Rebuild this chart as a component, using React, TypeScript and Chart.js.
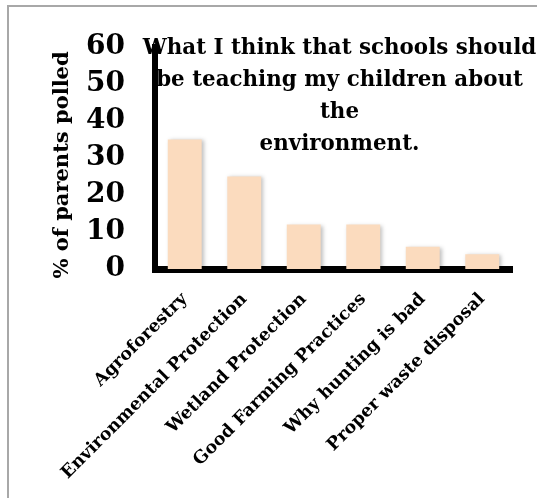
import React, { useEffect, useRef } from "react";
import { Chart, registerables } from "chart.js";

Chart.register(...registerables);

const categories = [
  "Agroforestry",
  "Environmental Protection",
  "Wetland Protection",
  "Good Farming Practices",
  "Why hunting is bad",
  "Proper waste disposal",
];
const percentParents = [35, 25, 12, 12, 6, 4];
const yTicks = [0, 10, 20, 30, 40, 50, 60];
const titleLines = [
  "What I think that schools should",
  "be teaching my children about",
  "the",
  "environment.",
];
const yAxisTitle = "% of parents polled";

const SERIF = '"DejaVu Serif", "Liberation Serif", serif';
const BAR_COLOR = "#FBDBBE";
const FRAME_COLOR = "#a8a8a8";

// Thin frame along the top and left edges of the chart box
const frame = {
  id: "frame",
  beforeDraw(chart: any) {
    const c = chart.ctx;
    c.save();
    c.fillStyle = "#fff";
    c.fillRect(0, 0, chart.width, chart.height);
    c.strokeStyle = FRAME_COLOR;
    c.lineWidth = 2;
    c.beginPath();
    c.moveTo(8, chart.height);
    c.lineTo(8, 6);
    c.lineTo(chart.width, 6);
    c.stroke();
    c.restore();
  },
};

// Soft drop shadow behind the bars
const barShadow = {
  id: "barShadow",
  beforeDatasetsDraw(chart: any) {
    const c = chart.ctx;
    c.save();
    c.shadowColor = "rgba(0,0,0,0.25)";
    c.shadowBlur = 4;
    c.shadowOffsetX = 2;
    c.shadowOffsetY = 1;
  },
  afterDatasetsDraw(chart: any) {
    chart.ctx.restore();
  },
};

// Title sits over the plot area; the axis title is placed beside the ticks
const overlayText = {
  id: "overlayText",
  afterDraw(chart: any) {
    const { ctx, chartArea } = chart;
    ctx.save();
    ctx.fillStyle = "#000";
    ctx.font = `bold 21.4px ${SERIF}`;
    ctx.textAlign = "center";
    ctx.textBaseline = "alphabetic";
    const cx = (chartArea.left + chartArea.right) / 2 + 6;
    titleLines.forEach((line, i) => {
      ctx.fillText(line, cx, chartArea.top + 7 + i * 32);
    });
    ctx.font = `bold 21px ${SERIF}`;
    ctx.translate(chartArea.left - 92, (chartArea.top + chartArea.bottom) / 2 + 7);
    ctx.rotate(-Math.PI / 2);
    ctx.textBaseline = "middle";
    ctx.fillText(yAxisTitle, 0, 0);
    ctx.restore();
  },
};

export default function App() {
  const canvasRef = useRef<HTMLCanvasElement | null>(null);

  useEffect(() => {
    if (!canvasRef.current) return;
    const chart = new Chart(canvasRef.current, {
      type: "bar",
      data: {
        labels: categories,
        datasets: [
          {
            data: percentParents,
            backgroundColor: BAR_COLOR,
            borderWidth: 0,
            barPercentage: 0.57,
            categoryPercentage: 1,
          },
        ],
      },
      options: {
        responsive: false,
        animation: false,
        devicePixelRatio: 1,
        layout: { padding: { left: 0, top: 43, right: 25, bottom: 0 } },
        plugins: {
          legend: { display: false },
          title: { display: false },
          tooltip: { enabled: false },
        },
        scales: {
          x: {
            z: 1,
            grid: { display: false, drawTicks: false },
            border: { display: true, color: "#000", width: 7 },
            ticks: {
              autoSkip: false,
              maxRotation: 45,
              minRotation: 45,
              padding: 20,
              color: "#000",
              font: { family: SERIF, size: 17.5, weight: "bold" },
            },
            afterFit(scale: any) {
              scale.height = 229;
            },
          },
          y: {
            z: 1,
            min: 0,
            max: 60,
            grid: { display: false, drawTicks: false },
            border: { display: true, color: "#000", width: 6 },
            afterBuildTicks(scale: any) {
              scale.ticks = yTicks.map((v) => ({ value: v }));
            },
            ticks: {
              padding: 30,
              color: "#000",
              font: { family: SERIF, size: 28, weight: "bold" },
            },
            afterFit(scale: any) {
              scale.width = 155;
            },
          },
        },
      },
      plugins: [frame, barShadow, overlayText],
    });
    return () => chart.destroy();
  }, []);

  return (
    <div
      style={{
        position: "fixed",
        left: 0,
        top: 0,
        width: 537,
        height: 498,
        overflow: "hidden",
        background: "#fff",
      }}
    >
      <canvas
        ref={canvasRef}
        width={537}
        height={498}
        style={{ display: "block", width: 537, height: 498 }}
      />
    </div>
  );
}
